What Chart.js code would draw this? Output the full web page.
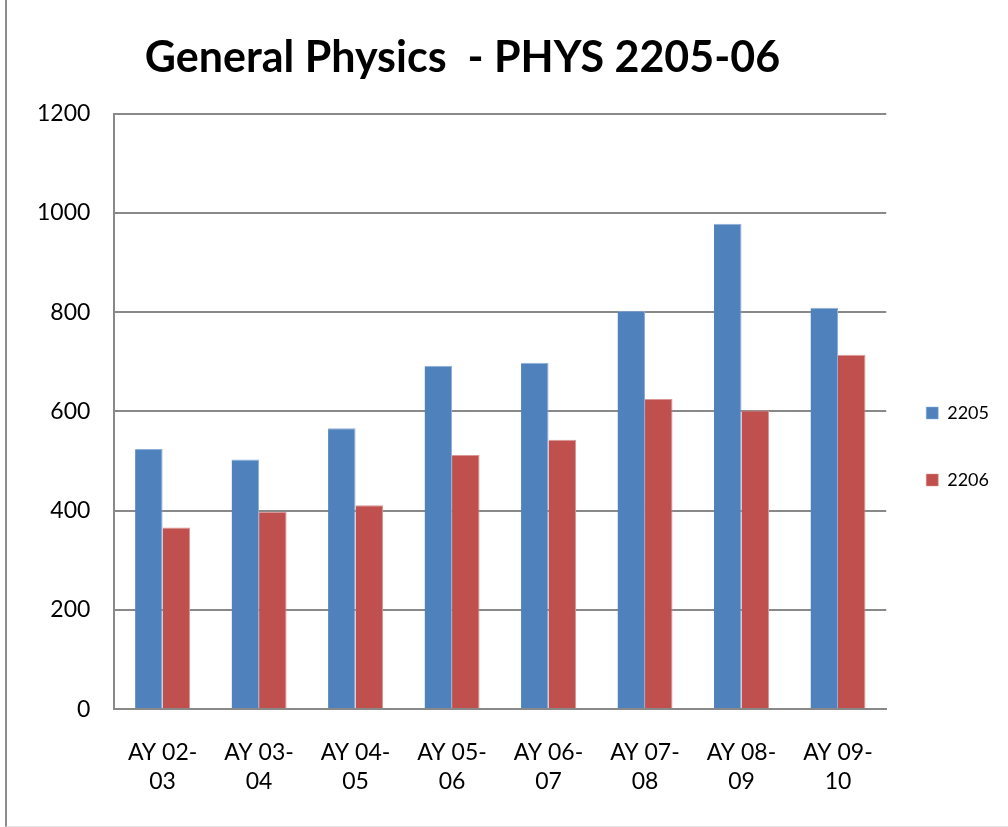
<!DOCTYPE html>
<html>
<head>
<meta charset="utf-8">
<script src="https://cdn.jsdelivr.net/npm/chart.js@4.4.1/dist/chart.umd.min.js"></script>
<style>
  html, body { margin: 0; padding: 0; background: #fff; }
  #wrap { position: relative; width: 1008px; height: 827px; overflow: hidden; }
  #frame {
    position: absolute; left: 5px; top: -10px; width: 1020px; height: 837px;
    border-left: 2px solid #8c8c8c; border-bottom: 1px solid #e6e6e6;
    box-sizing: border-box;
  }
  canvas { position: absolute; left: 0; top: 0; }
</style>
</head>
<body>
<div id="wrap">
  <div id="frame"></div>
  <canvas id="chart" width="1008" height="827"></canvas>
</div>
<script>
  const categories = [
    ['AY 02-', '03'], ['AY 03-', '04'], ['AY 04-', '05'], ['AY 05-', '06'],
    ['AY 06-', '07'], ['AY 07-', '08'], ['AY 08-', '09'], ['AY 09-', '10']
  ]
  const values2205 = [524, 503, 566, 692, 698, 803, 978, 809]
  const values2206 = [366, 398, 411, 512, 543, 625, 602, 714]
  const yTicks = [0, 200, 400, 600, 800, 1000, 1200]

  const FONT = 'Lato, "Open Sans", sans-serif'
  const gridGray = '#898989'

  // nudge title and legend boxes to where the original has them
  const boxNudge = {
    id: 'boxNudge',
    afterLayout (chart) {
      const t = chart.titleBlock
      if (t) { t.right = 925 - t.left }
      const l = chart.legend
      if (l) {
        l.top += 18
        l.bottom += 18
        l.left -= 9
        l.right -= 9
      }
    }
  }

  const ctx = document.getElementById('chart').getContext('2d')

  /* eslint-disable no-new */
  new Chart(ctx, {
    type: 'bar',
    data: {
      labels: categories,
      datasets: [
        {
          label: '2205',
          data: values2205,
          backgroundColor: '#4f81bd',
          borderColor: '#8eaedb',
          borderWidth: { top: 1, left: 0, right: 1, bottom: 0 }
        },
        {
          label: '2206',
          data: values2206,
          backgroundColor: '#c0504d',
          borderColor: '#d99594',
          borderWidth: { top: 1, left: 0, right: 1, bottom: 0 }
        }
      ]
    },
    options: {
      responsive: false,
      animation: false,
      datasets: {
        bar: { categoryPercentage: 0.57, barPercentage: 1.0 }
      },
      layout: { padding: { left: 13, right: 0, top: 32, bottom: 2 } },
      plugins: {
        title: {
          display: true,
          text: 'General Physics  - PHYS 2205-06',
          color: '#000',
          font: { family: FONT, size: 43, weight: 'bold' },
          padding: { top: 0, bottom: 30 }
        },
        legend: {
          position: 'right',
          labels: {
            color: '#000',
            font: { family: FONT, size: 18 },
            boxWidth: 12,
            boxHeight: 12,
            padding: 49
          }
        },
        tooltip: { enabled: false }
      },
      scales: {
        x: {
          grid: { display: false, drawTicks: false },
          border: { color: gridGray, width: 2 },
          ticks: {
            color: '#000',
            font: { family: FONT, size: 23, lineHeight: 1.3 },
            padding: 28,
            maxRotation: 0,
            autoSkip: false
          }
        },
        y: {
          min: yTicks[0],
          max: yTicks[yTicks.length - 1],
          afterBuildTicks: (scale) => { scale.ticks = yTicks.map(v => ({ value: v })) },
          grid: { color: gridGray, lineWidth: 2, drawTicks: false },
          border: { color: gridGray, width: 2 },
          ticks: {
            color: '#000',
            font: { family: FONT, size: 23 },
            padding: 24,
            callback: (value) => String(value)
          }
        }
      }
    },
    plugins: [boxNudge]
  })
</script>
</body>
</html>
